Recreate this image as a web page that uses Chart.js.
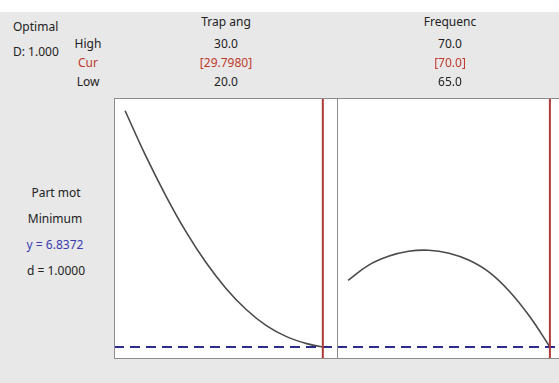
<!DOCTYPE html>
<html>
<head>
<meta charset="utf-8">
<script src="https://cdn.jsdelivr.net/npm/chart.js@4/dist/chart.umd.min.js"></script>
<style>
  html, body { margin: 0; padding: 0; background: #ffffff; }
  #wrap { position: relative; width: 559px; height: 383px; overflow: hidden; background: #ffffff; }
  #gray { position: absolute; left: 0; top: 12px; width: 559px; height: 371px; background: #e8e8e8; }
  .t { position: absolute; font-family: "Noto Sans", "Open Sans", sans-serif; font-size: 12px; color: #222222;
       white-space: nowrap; transform: translate(-50%, -50%); line-height: 1; }
  .l { transform: translate(0, -50%); }
  .red { color: #c0392b; }
  .blue { color: #3a3ab0; }
  canvas { position: absolute; }
</style>
</head>
<body>
<div id="wrap">
  <div id="gray"></div>
  <canvas id="c1" width="224" height="261" style="left:114px; top:98px;"></canvas>
  <canvas id="c2" width="224" height="261" style="left:337px; top:98px;"></canvas>
  <div id="labels"></div>
</div>
<script>
// ---- data ----
const factorNames = ["Trap ang", "Frequenc"];
const highLabels = ["30.0", "70.0"];
const curLabels = ["[29.7980]", "[70.0]"];
const lowLabels = ["20.0", "65.0"];
const lowValues = [20, 65];
const highValues = [30, 70];
const curValues = [29.798, 70];

const responseName = "Part mot";
const goalLabel = "Minimum";
const yOptimal = 6.8372;
const yLabel = "y = 6.8372";
const dLabel = "d = 1.0000";
const optimalLabel = "Optimal";
const overallD = "D: 1.000";

const trapAngle   = [20, 21, 22, 23, 24, 25, 26, 27, 28, 29, 29.798, 30];
const partMotTrap = [9.19, 8.75, 8.35, 7.99, 7.68, 7.42, 7.21, 7.05, 6.94, 6.87, 6.8372, 6.84];

const frequency   = [65, 65.5, 66.0, 66.5, 67.0, 67.5, 68.0, 68.5, 69.0, 69.5, 70];
const partMotFreq = [7.50, 7.65, 7.74, 7.79, 7.80, 7.77, 7.70, 7.58, 7.39, 7.14, 6.8372];

const yMin = 6.717, yMax = 9.317;

// ---- labels ----
const labels = document.getElementById('labels');
function addText(txt, x, y, cls) {
  const d = document.createElement('div');
  d.className = 't ' + (cls || '');
  d.textContent = txt;
  d.style.left = x + 'px';
  d.style.top = y + 'px';
  labels.appendChild(d);
}
addText(optimalLabel, 13, 27, 'l');
addText(overallD, 13, 52, 'l');
addText("High", 88, 44);
addText("Cur", 88, 63, 'red');
addText("Low", 88, 82);
const centers = [226, 450];
for (let i = 0; i < 2; i++) {
  addText(factorNames[i], centers[i], 22);
  addText(highLabels[i], centers[i], 44);
  addText(curLabels[i], centers[i], 63, 'red');
  addText(lowLabels[i], centers[i], 82);
}
addText(responseName, 56, 193);
addText(goalLabel, 55, 219);
addText(yLabel, 55, 245, 'blue');
addText(dLabel, 56, 271);

// ---- charts ----
const borderPlugin = {
  id: 'panelBorder',
  afterDraw(chart) {
    const { ctx, chartArea: a } = chart;
    ctx.save();
    ctx.strokeStyle = '#8c8c8c';
    ctx.lineWidth = 1;
    ctx.strokeRect(a.left + 0.5, a.top + 0.5, a.right - a.left - 1, a.bottom - a.top - 1);
    ctx.restore();
  }
};
const bgPlugin = {
  id: 'panelBg',
  beforeDraw(chart) {
    const { ctx, chartArea: a } = chart;
    ctx.save();
    ctx.fillStyle = '#ffffff';
    ctx.fillRect(a.left, a.top, a.right - a.left, a.bottom - a.top);
    ctx.restore();
  }
};

function makePanel(id, xs, ys, lo, hi, cur, padFrac) {
  const pad = (hi - lo) * padFrac;
  const xmin = lo - pad, xmax = hi + pad;
  new Chart(document.getElementById(id), {
    type: 'line',
    data: {
      datasets: [
        {
          data: xs.map((x, i) => ({ x: x, y: ys[i] })),
          borderColor: '#4a4a4a', borderWidth: 1.6, pointRadius: 0,
          tension: 0.4, fill: false, order: 2
        },
        {
          data: [{ x: xmin, y: yOptimal }, { x: xmax, y: yOptimal }],
          borderColor: '#2c2c8c', borderWidth: 2, borderDash: [10, 6], pointRadius: 0, fill: false, order: 1
        },
        {
          data: [{ x: cur, y: yMin }, { x: cur, y: yMax }],
          borderColor: '#b03a3a', borderWidth: 2, pointRadius: 0, fill: false, order: 0
        }
      ]
    },
    options: {
      responsive: false, animation: false, events: [],
      layout: { padding: 0 },
      plugins: { legend: { display: false }, tooltip: { enabled: false }, title: { display: false } },
      scales: {
        x: { type: 'linear', min: xmin, max: xmax, display: false },
        y: { type: 'linear', min: yMin, max: yMax, display: false }
      }
    },
    plugins: [bgPlugin, borderPlugin]
  });
}
makePanel('c1', trapAngle, partMotTrap, lowValues[0], highValues[0], curValues[0], 0.055);
makePanel('c2', frequency, partMotFreq, lowValues[1], highValues[1], curValues[1], 0.055);
</script>
</body>
</html>
